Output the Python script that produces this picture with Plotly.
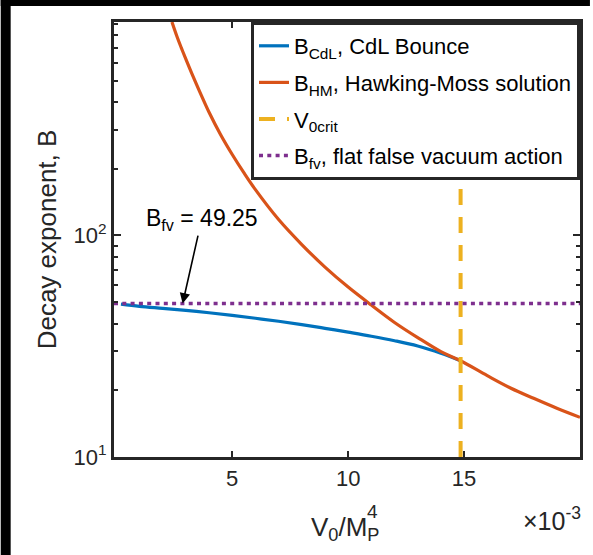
import math
import plotly.graph_objects as go

# ---- data ----
v_cdl = [0.0002, 0.001, 0.002, 0.003, 0.004, 0.005, 0.006, 0.007, 0.008,
         0.009, 0.010, 0.011, 0.012, 0.013, 0.014, 0.01485]
b_cdl = [49.0, 47.9, 46.9, 45.9, 44.8, 43.6, 42.3, 41.0, 39.6,
         38.1, 36.6, 35.1, 33.5, 31.7, 29.4, 27.2]

v_hm = [0.0024, 0.0026, 0.0028, 0.0030, 0.0033, 0.0036, 0.0040, 0.0045,
        0.0050, 0.0055, 0.0060, 0.0070, 0.0080, 0.0090, 0.0100, 0.0110,
        0.0120, 0.0130, 0.0140, 0.01485, 0.0160, 0.0170, 0.0180, 0.0190, 0.0200]
b_hm = [920, 800, 705, 625, 525, 445, 360, 285,
        232, 192, 161, 118, 91, 72, 58.5, 48.5,
        40.5, 34.6, 29.9, 27.2, 23.3, 20.5, 18.4, 16.6, 15.1]

v0_crit = 0.01485
b_fv = 49.25
x_limits = [-0.0001, 0.0200]
y_limits = [10, 920]

x_tickvals = [0.005, 0.010, 0.015]
x_ticktext = ["5", "10", "15"]
y_tickvals = [10, 100]
y_ticktext = ["10<sup>1</sup>", "10<sup>2</sup>"]
y_minor = [20, 30, 40, 50, 60, 70, 80, 90, 200, 300, 400, 500, 600, 700, 800, 900]

names = ["B<sub>CdL</sub>, CdL Bounce",
         "B<sub>HM</sub>, Hawking-Moss solution",
         "V<sub>0crit</sub>",
         "B<sub>fv</sub>, flat false vacuum action"]

BLUE, ORANGE, YELLOW, PURPLE = "#0072BD", "#D95319", "#EDB120", "#7E2F8E"
AX = "#262626"
FONT = "Liberation Sans, Arial, Helvetica, sans-serif"

W, H = 593, 555
ML, MR, MT, MB = 114, 10, 22, 98
PW, PH = W - ML - MR, H - MT - MB


def px_x(p):
    return (p - ML) / PW


def px_y(p):
    return (H - MB - p) / PH


fig = go.Figure()
fig.add_trace(go.Scatter(x=v_cdl, y=b_cdl, mode="lines", name=names[0],
                         line=dict(color=BLUE, width=3.2, shape="spline"),
                         legendgroup="a"))
fig.add_trace(go.Scatter(x=v_hm, y=b_hm, mode="lines", name=names[1],
                         line=dict(color=ORANGE, width=3.2, shape="spline"),
                         legendgroup="b"))
fig.add_trace(go.Scatter(x=[v0_crit, v0_crit], y=y_limits, mode="lines", name=names[2],
                         line=dict(color=YELLOW, width=4, dash="16px,12px"),
                         legendgroup="c"))
fig.add_trace(go.Scatter(x=x_limits, y=[b_fv, b_fv], mode="lines", name=names[3],
                         line=dict(color=PURPLE, width=3.5, dash="4px,4.3px"),
                         legendgroup="d"))

axis_common = dict(showline=True, linewidth=3, linecolor=AX, mirror="allticks",
                   ticks="inside", tickcolor=AX, tickwidth=2, showgrid=False,
                   zeroline=False, tickfont=dict(size=22, color=AX, family=FONT))

fig.update_xaxes(range=x_limits, tickvals=x_tickvals, ticktext=x_ticktext,
                 ticklen=6, **axis_common)
fig.update_yaxes(type="log", range=[math.log10(y_limits[0]), math.log10(y_limits[1])],
                 tickvals=y_tickvals, ticktext=y_ticktext, ticklen=7,
                 minor=dict(tickvals=y_minor, ticks="inside", ticklen=4,
                            tickwidth=2, tickcolor=AX),
                 title=dict(text="Decay exponent, B", font=dict(size=26, color=AX, family=FONT),
                            standoff=10),
                 **axis_common)

fig.update_layout(
    width=W, height=H,
    margin=dict(l=ML, r=MR, t=MT, b=MB),
    paper_bgcolor="white", plot_bgcolor="white",
    font=dict(family=FONT, color=AX),
    showlegend=True,
    legend=dict(x=1, y=1, xanchor="right", yanchor="top", bgcolor="white",
                bordercolor=AX, borderwidth=3, font=dict(size=22, color="#000000", family=FONT),
                tracegroupgap=5, itemwidth=30),
    shapes=[
        # black frame strips on the left and top of the picture (kept inside the canvas)
        dict(type="rect", xref="paper", yref="paper", x0=px_x(0), x1=px_x(10),
             y0=px_y(H), y1=px_y(0), fillcolor="black", line=dict(width=0), layer="above"),
        dict(type="rect", xref="paper", yref="paper", x0=px_x(0), x1=px_x(W),
             y0=px_y(6), y1=px_y(0), fillcolor="black", line=dict(width=0), layer="above"),
        # keep the right edge of the picture white
        dict(type="rect", xref="paper", yref="paper", x0=px_x(587), x1=px_x(W),
             y0=px_y(H), y1=px_y(6), fillcolor="white", line=dict(width=0), layer="above"),
    ],
    annotations=[
        dict(x=0.00286, y=math.log10(b_fv), xref="x", yref="y",
             text="B<sub>fv</sub> = 49.25", showarrow=True, arrowhead=2,
             arrowsize=1.3, arrowwidth=1.6, arrowcolor="black",
             ax=19, ay=-84, font=dict(size=23, color="black", family=FONT)),
        dict(x=px_x(346.5), y=px_y(528), xref="paper", yref="paper",
             text="V<sub>0</sub>/M<sub>P</sub>", showarrow=False, xanchor="center",
             yanchor="middle", font=dict(size=26, color=AX, family=FONT)),
        dict(x=px_x(374), y=px_y(511), xref="paper", yref="paper",
             text="4", showarrow=False, xanchor="center", yanchor="middle",
             font=dict(size=19, color=AX, family=FONT)),
        dict(x=px_x(586), y=px_y(519), xref="paper", yref="paper",
             text="×10<sup>-3</sup>", showarrow=False, xanchor="right",
             yanchor="middle", font=dict(size=25, color=AX, family=FONT)),
    ],
)

fig.write_html("out.html")
